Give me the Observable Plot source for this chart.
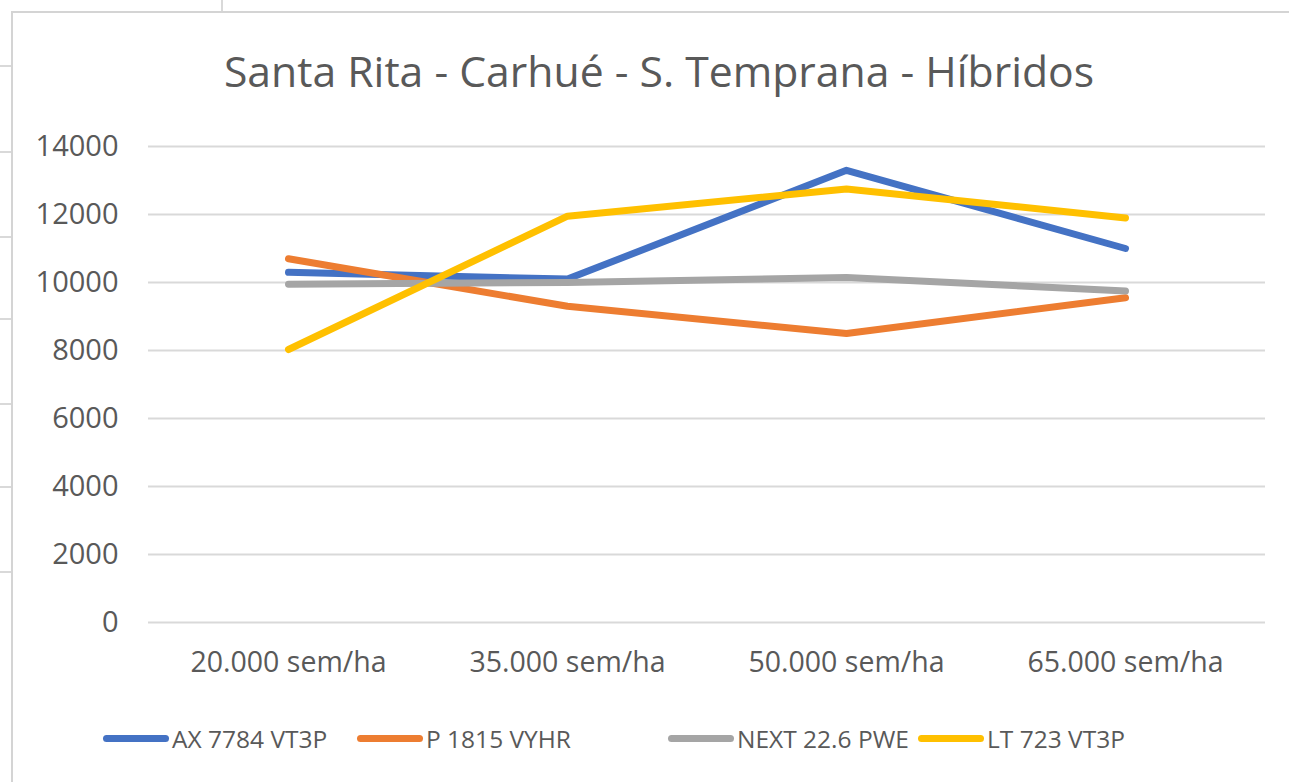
<!DOCTYPE html>
<html>
<head>
<meta charset="utf-8">
<script src="https://cdn.jsdelivr.net/npm/d3@7"></script>
<script src="https://cdn.jsdelivr.net/npm/@observablehq/plot@0.6"></script>
<style>
  html, body { margin: 0; padding: 0; background: #fff; }
  body { width: 1289px; height: 782px; position: relative; overflow: hidden; font-family: "Open Sans", "Noto Sans", sans-serif; color: #595959; }
  #frame { position: absolute; left: 11px; top: 11px; width: 1300px; height: 800px; border-left: 2px solid #d4d4d4; border-top: 2px solid #d4d4d4; }
  .cell { position: absolute; background: #d9d9d9; }
  #title { position: absolute; left: 0; width: 1318px; top: 46px; text-align: center; font-size: 42.7px; line-height: 50px; color: #595959; }
  #chart { position: absolute; left: 0; top: 110px; }
  #legend { position: absolute; top: 720px; left: 0; width: 1289px; height: 36px; }
  .li { position: absolute; top: 0; height: 36px; display: flex; align-items: center; font-size: 24.5px; color: #595959; white-space: nowrap; }
  .sw { display: inline-block; width: 66px; height: 7px; border-radius: 4px; margin-right: 3px; }
</style>
</head>
<body>
<div class="cell" style="left:0;top:65px;width:11px;height:2px"></div>
<div class="cell" style="left:0;top:151px;width:11px;height:2px"></div>
<div class="cell" style="left:0;top:236px;width:11px;height:2px"></div>
<div class="cell" style="left:0;top:318px;width:11px;height:2px"></div>
<div class="cell" style="left:0;top:403px;width:11px;height:2px"></div>
<div class="cell" style="left:0;top:486px;width:11px;height:2px"></div>
<div class="cell" style="left:0;top:571px;width:11px;height:2px"></div>
<div class="cell" style="left:221px;top:0;width:2px;height:11px"></div>
<div id="frame"></div>
<div id="title">Santa Rita - Carhué - S. Temprana - Híbridos</div>
<div id="chart"></div>
<div id="legend"></div>
<script>
const categories = ["20.000 sem/ha", "35.000 sem/ha", "50.000 sem/ha", "65.000 sem/ha"];
const seriesNames = ["AX 7784 VT3P", "P 1815 VYHR", "NEXT 22.6 PWE", "LT 723 VT3P"];
const ax7784 = [10300, 10100, 13300, 11000];
const p1815 = [10700, 9300, 8500, 9550];
const next226 = [9950, 10000, 10150, 9750];
const lt723 = [8030, 11950, 12750, 11900];
const yTicks = [0, 2000, 4000, 6000, 8000, 10000, 12000, 14000];
const colors = ["#4472C4", "#ED7D31", "#A5A5A5", "#FFC000"];

const allValues = [ax7784, p1815, next226, lt723];
const data = [];
seriesNames.forEach((s, i) => {
  categories.forEach((c, j) => data.push({series: s, cat: c, value: allValues[i][j]}));
});

const chart = Plot.plot({
  width: 1289,
  height: 590,
  marginLeft: 148,
  marginRight: 24,
  marginTop: 36,
  marginBottom: 78,
  style: {fontFamily: "'Open Sans', 'Noto Sans', sans-serif", color: "#595959", background: "transparent"},
  x: {type: "point", domain: categories, padding: 0.5, label: null},
  y: {domain: [0, 14000], ticks: yTicks, label: null},
  color: {domain: seriesNames, range: colors},
  marks: [
    Plot.gridY(yTicks, {stroke: "#d9d9d9", strokeOpacity: 1, strokeWidth: 2}),
    Plot.axisY(yTicks, {tickSize: 0, tickPadding: 30, fontSize: 29, tickFormat: d => String(d), label: null}),
    Plot.axisX({tickSize: 0, tickPadding: 29, fontSize: 28.5, label: null}),
    Plot.line(data, {x: "cat", y: "value", z: "series", stroke: "series", strokeWidth: 7, strokeLinecap: "round", strokeLinejoin: "round"})
  ]
});
document.getElementById("chart").appendChild(chart);

const legendPos = [103, 357, 668, 918];
const legend = document.getElementById("legend");
seriesNames.forEach((s, i) => {
  const item = document.createElement("div");
  item.className = "li";
  item.style.left = legendPos[i] + "px";
  const sw = document.createElement("span");
  sw.className = "sw";
  sw.style.background = colors[i];
  item.appendChild(sw);
  item.appendChild(document.createTextNode(s));
  legend.appendChild(item);
});
</script>
</body>
</html>
